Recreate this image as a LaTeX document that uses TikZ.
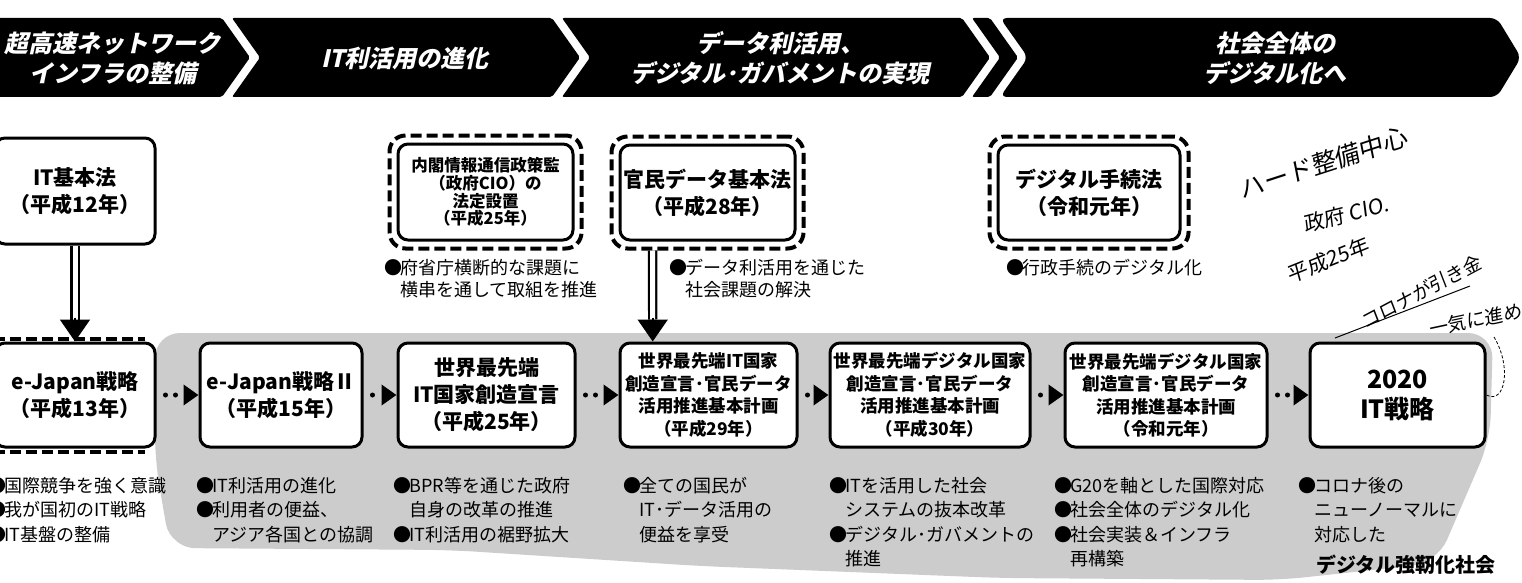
\documentclass[tikz,border=0pt]{standalone}
\usepackage{fontspec}
\setmainfont{Noto Sans CJK JP}
\newfontfamily\hdrfont{Noto Sans CJK JP}[FakeSlant=0.22,BoldFeatures={FakeSlant=0.22}]
\newfontfamily\handfont{Noto Sans CJK JP}[FakeSlant=0.12]
\usetikzlibrary{arrows.meta,fit,calc}
\newcommand\bul{\makebox[0.68em][l]{\hspace{-0.18em}●}}
\newcommand\ind{\hspace*{0.68em}}
\begin{document}
\begin{tikzpicture}[x=1pt,y=-1pt,
 chev/.style={fill=black,rounded corners=2pt},
 hdr/.style={text=white,align=center,inner sep=0pt,font=\hdrfont\bfseries\fontsize{24}{30}\selectfont},
 sbox/.style={draw,line width=3pt,rounded corners=10pt,fill=white,align=center,inner sep=0pt,
   minimum height=104pt,font=\bfseries\fontsize{21}{27}\selectfont},
 planbox/.style={sbox,font=\bfseries\fontsize{17.5}{22.5}\selectfont},
 lawbox/.style={draw,line width=4pt,dash pattern=on 11pt off 5pt,rounded corners=16pt,inner sep=7pt},
 bull/.style={anchor=north west,inner sep=0pt,align=left,font=\fontsize{18}{24.5}\selectfont},
 tbull/.style={anchor=north west,inner sep=0pt,align=left,font=\fontsize{18}{22}\selectfont},
 dotarrow/.style={line width=5pt,line cap=round,dash pattern=on 0pt off 10pt,shorten <=9pt,
   -{Triangle[length=15pt,width=20pt]}},
 shaft/.style={draw=black,double=white,double distance=5pt,line width=2.2pt},
 headarrow/.style={line width=2pt,-{Triangle[length=22pt,width=30pt]}},
 hand/.style={inner sep=0pt,font=\handfont\fontsize{21}{23}\selectfont},
 edash/.style={line width=4pt,dash pattern=on 11pt off 5pt},
]
\useasboundingbox (0,0) rectangle (1522,583);
\fill[white] (0,0) rectangle (1522,583);

% stippled background
\fill[black!20,rounded corners=25pt] (155,333) -- (1493,333) -- (1490,440) -- (1437,563)
  -- (1280,580) -- (1000,578) -- (700,566) -- (450,550) -- (170,548) -- (155,460) -- cycle;

% header chevrons
\fill[chev] (-5,18) -- (222,18) -- (250,57.5) -- (222,97) -- (-5,97) -- cycle;
\fill[chev] (232,18) -- (552,18) -- (580,57.5) -- (552,97) -- (232,97) -- (260,57.5) -- cycle;
\fill[chev] (562,18) -- (962,18) -- (990,57.5) -- (962,97) -- (562,97) -- (590,57.5) -- cycle;
\fill[chev] (972,18) -- (990,18) -- (1018,57.5) -- (990,97) -- (972,97) -- (1000,57.5) -- cycle;
\fill[black,rounded corners=7pt] (1000,18) -- (1497,18) -- (1521,57.5) -- (1497,97) -- (1000,97) -- (1028,57.5) -- cycle;
\node[hdr] (h1) at (113,58) {超高速ネットワーク\\インフラの整備};
\node[hdr] (h2) at (405,58) {IT利活用の進化};
\node[hdr] (h3) at (780,58) {データ利活用、\\デジタル･ガバメントの実現};
\node[hdr] (h4) at (1275,58) {社会全体の\\デジタル化へ};

% top row (laws)
\node[sbox,minimum width=160pt,minimum height=106pt] (t1) at (75,191) {IT基本法\\（平成12年）};
\node[sbox,minimum width=175pt,minimum height=96pt,font=\bfseries\fontsize{16.5}{17.8}\selectfont] (t2) at (485.5,192)
  {内閣情報通信政策監\\（政府CIO）の\\法定設置\\（平成25年）};
\node[lawbox,fit=(t2)] (t2o) {};
\node[sbox,minimum width=175pt,minimum height=95pt] (t3) at (707.5,192.5) {官民データ基本法\\（平成28年）};
\node[lawbox,fit=(t3)] (t3o) {};
\node[sbox,minimum width=182pt,minimum height=95pt] (t4) at (1089,192.5) {デジタル手続法\\（令和元年）};
\node[lawbox,fit=(t4)] (t4o) {};

\node[tbull] (n2) at (388,259) {\bul 府省庁横断的な課題に\\\ind 横串を通して取組を推進};
\node[tbull] (n3) at (673,259) {\bul データ利活用を通じた\\\ind 社会課題の解決};
\node[tbull] (n4) at (1010,259) {\bul 行政手続のデジタル化};

% bottom row (strategies)
\node[sbox,minimum width=160pt] (b1) at (75,395) {e-Japan戦略\\（平成13年）};
\draw[edash] ($(b1.north west)+(0,-3)$) -- ($(b1.north east)+(-12,-3)$);
\draw[edash] ($(b1.south west)+(0,3)$) -- ($(b1.south east)+(-12,3)$);
\node[sbox,minimum width=162pt] (b2) at (281,395) {e-Japan戦略Ⅱ\\（平成15年）};
\node[sbox,minimum width=177pt] (b3) at (486.5,395) {世界最先端\\IT国家創造宣言\\（平成25年）};
\node[planbox,minimum width=177pt] (b4) at (708.5,395) {世界最先端IT国家\\創造宣言･官民データ\\活用推進基本計画\\（平成29年）};
\node[planbox,minimum width=200pt] (b5) at (930,395) {世界最先端デジタル国家\\創造宣言･官民データ\\活用推進基本計画\\（平成30年）};
\node[planbox,minimum width=202pt] (b6) at (1166,395) {世界最先端デジタル国家\\創造宣言･官民データ\\活用推進基本計画\\（令和元年）};
\node[sbox,minimum width=175pt,font=\bfseries\fontsize{25}{30}\selectfont] (b7) at (1397.5,395) {2020\\IT戦略};

% connectors between strategies
\draw[dotarrow] (b1.east) -- (b2.west);
\draw[dotarrow] (b2.east) -- (b3.west);
\draw[dotarrow] (b3.east) -- (b4.west);
\draw[dotarrow] (b4.east) -- (b5.west);
\draw[dotarrow] (b5.east) -- (b6.west);
\draw[dotarrow] (b6.east) -- (b7.west);

% law -> strategy arrows
\coordinate (a1) at ($(b1.north)+(0,-22)$);
\draw[shaft] (t1.south) -- (a1);
\draw[headarrow] ($(a1)+(0,-2)$) -- (b1.north);
\coordinate (a2s) at ($(t3o.south west)!0.22!(t3o.south east)$);
\coordinate (a2e) at ($(b4.north west)!0.19!(b4.north east)$);
\coordinate (a2) at ($(a2e)+(0,-22)$);
\draw[shaft] (a2s) -- (a2);
\draw[headarrow] ($(a2)+(0,-2)$) -- (a2e);

% bullets below strategies
\node[bull] (m1) at (-8,477) {\bul 国際競争を強く意識\\\bul 我が国初のIT戦略\\\bul IT基盤の整備};
\node[bull] (m2) at (200,477) {\bul IT利活用の進化\\\bul 利用者の便益、\\\ind アジア各国との協調};
\node[bull] (m3) at (397,477) {\bul BPR等を通じた政府\\\ind 自身の改革の推進\\\bul IT利活用の裾野拡大};
\node[bull] (m4) at (627,477) {\bul 全ての国民が\\\ind IT･データ活用の\\\ind 便益を享受};
\node[bull] (m5) at (833,477) {\bul ITを活用した社会\\\ind システムの抜本改革\\\bul デジタル･ガバメントの\\\ind 推進};
\node[bull] (m6) at (1058,477) {\bul G20を軸とした国際対応\\\bul 社会全体のデジタル化\\\bul 社会実装＆インフラ\\\ind 再構築};
\node[bull] (m7) at (1302,477) {\bul コロナ後の\\\ind ニューノーマルに\\\ind 対応した};
\node[anchor=north west,inner sep=0pt,font=\bfseries\fontsize{20}{24}\selectfont] (m7b) at (1316,555) {デジタル強靭化社会};

% handwritten notes
\node[hand,rotate=18,font=\handfont\fontsize{25}{27}\selectfont] (w1) at (1323,163) {ハード整備中心};
\node[hand,rotate=14] (w2) at (1346,214) {政府 CIO.};
\node[hand,rotate=22] (w3) at (1328,260) {平成25年};
\node[hand,rotate=28,font=\handfont\fontsize{19}{21}\selectfont] (w4) at (1421,292) {コロナが引き金};
\coordinate (u1) at (1335,338);
\coordinate (u2) at (1470,286);
\draw[line width=1pt] (u1) -- (u2);
\node[hand,rotate=12,font=\handfont\fontsize{19}{21}\selectfont] (w5) at (1475,320) {一気に進め};
\coordinate (c1) at (1494,337);
\draw[line width=0.8pt,dash pattern=on 3pt off 2pt] (c1) .. controls (1512,367) and (1505,405) .. (b7.east);
\end{tikzpicture}
\end{document}
